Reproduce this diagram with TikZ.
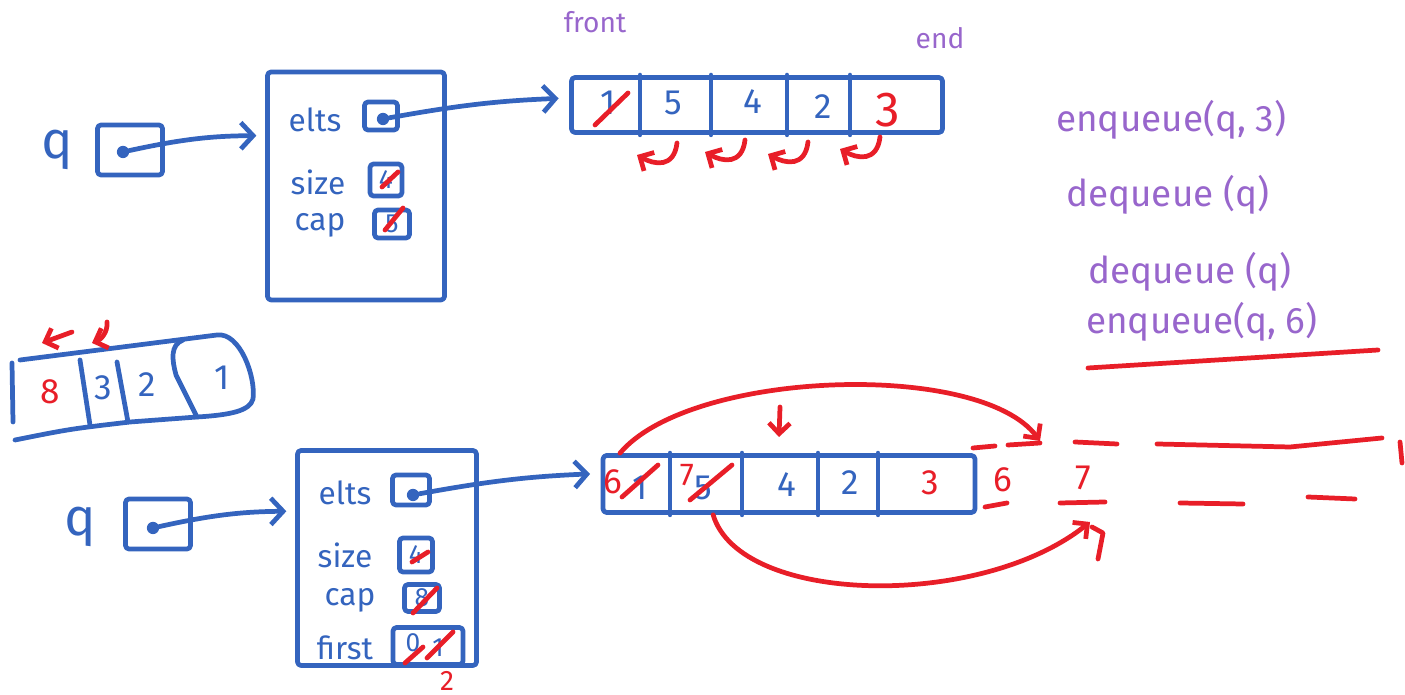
\documentclass[tikz,border=0pt]{standalone}
\usepackage{fontspec}
\setmainfont{Fira Sans}
\usetikzlibrary{arrows.meta}
\definecolor{inkblue}{RGB}{52,100,190}
\definecolor{inkred}{RGB}{232,30,40}
\definecolor{inkpurple}{RGB}{152,102,204}

\begin{document}
\begin{tikzpicture}[
            x=0.02cm, y=0.02cm,
            ink/.style={
                draw=inkblue,
                line width=2.7pt,
                line cap=round,
                line join=round
            },
            inkbox/.style={
                rectangle,
                ink,
                rounded corners=2pt,
                inner sep=0pt
            },
            ptrbox/.style={
                inkbox,
                minimum width=1.3cm,
                minimum height=1cm
            },
            slot/.style={
                inkbox,
                text=inkblue,
                font=\fontsize{15}{18}\selectfont
            },
            dot/.style={circle, fill=inkblue, inner sep=0pt, minimum size=7pt},
            qname/.style={text=inkblue, font=\fontsize{30}{36}\selectfont},
            field/.style={text=inkblue, font=\fontsize{18}{22}\selectfont},
            num/.style={text=inkblue, inner sep=1pt, font=\fontsize{20}{24}\selectfont},
            rednum/.style={num, text=inkred},
            tag/.style={text=inkpurple, font=\fontsize{16}{19}\selectfont},
            note/.style={text=inkpurple, anchor=west, font=\fontsize{21}{25}\selectfont},
            arrow/.style={ink, -{Straight Barb[length=7pt,width=15pt]}},
            redline/.style={draw=inkred, line width=2.7pt, line cap=round, line join=round},
            redarrow/.style={redline, -{Straight Barb[length=6pt,width=12pt]}},
            strike/.style={redline}
        ]
        \useasboundingbox (0,0) rectangle (1405,695);

        % Top: pointer and struct
        \node[qname] (q1) at (57,545) {q};
        \node[ptrbox] (qbox1) at (130,545) {};
        \node[dot] (d1) at (123,543) {};
        \node[inkbox, minimum width=3.54cm, minimum height=4.56cm] (struct1) at (356,509) {};
        \draw[arrow, shorten >=5pt] (d1) to[bend left=6] (struct1.151);

        \node[field] (elts1) at (315,575) {elts};
        \node[slot, minimum width=0.66cm, minimum height=0.56cm] (eltsbox1) at (381,579) {};
        \node[dot] (ed1) at (383,576) {};
        \node[field] (size1) at (318,513) {size};
        \node[slot, minimum width=0.64cm, minimum height=0.64cm] (sizebox1) at (386,515) {4};
        \node[field] (cap1) at (320,470) {cap};
        \node[slot, minimum width=0.7cm, minimum height=0.56cm] (capbox1) at (392,471) {5};
        \draw[strike] (sizebox1.center) +(-4,-7) -- +(12,8);
        \draw[strike] (capbox1.center) +(-7,-6) -- +(11,16);

        % Top array
        \node[inkbox, minimum width=7.42cm, minimum height=1.1cm] (arr1) at (757,590) {};
        \draw[arrow, shorten >=6pt] (ed1) to[bend left=4] ([yshift=4pt]arr1.west);
        \foreach \x in {640,711,787,850}
            \draw[ink] (\x,0 |- arr1.north) -- (\x,0 |- arr1.south);
        \node[num] (a11) at (608,592) {1};
        \node[num] (a12) at (673,592) {5};
        \node[num] (a13) at (753,593) {4};
        \node[num] (a14) at (823,588) {2};
        \node[rednum, font=\fontsize{28}{32}\selectfont] (a15) at (888,585) {3};
        \draw[strike] (a11.center) +(-13,-22) -- +(20,10);
        \node[tag] (front) at (595,673) {front};
        \node[tag] (end) at (940,657) {end};

        % shifts to the left
        \foreach \x/\y in {677/552, 745/555, 808/553, 880/558}
            \draw[redarrow] (\x,\y) .. controls (\x-3,\y-25) and (\x-22,\y-22) .. (\x-40,\y-12);

        % Calls
        \node[note] (call1) at (1050,575) {enqueue(q, 3)};
        \node[note] (call2) at (1060,500) {dequeue (q)};
        \node[note] (call3) at (1082,423) {dequeue (q)};
        \node[note] (call4) at (1080,373) {enqueue(q, 6)};
        \draw[redline] (1088,327) -- (1378,345);

        % Wrapped array sketch
        \draw[ink] (20,335) -- (217,360) .. controls (240,363) and (256,318) .. (253,296)
            .. controls (250,284) and (230,280) .. (197,278) -- (130,273)
            .. controls (70,266) .. (15,255);
        \draw[ink] (12,332) -- (13,273);
        \draw[ink] (80,335) -- (90,270);
        \draw[ink] (117,333) -- (128,273);
        \draw[ink] (183,355) .. controls (170,350) and (172,335) .. (176,320) -- (197,278);
        \node[rednum] (c1) at (50,303) {8};
        \node[num] (c2) at (103,307) {3};
        \node[num] (c3) at (147,310) {2};
        \node[num] (c4) at (222,317) {1};
        \draw[redarrow] (72,363) -- (42,352);
        \draw[redarrow] (107,373) .. controls (108,362) and (100,355) .. (92,352);

        % Bottom: pointer and struct
        \node[qname] (q2) at (80,168) {q};
        \node[ptrbox] (qbox2) at (158,171) {};
        \node[dot] (d2) at (153,167) {};
        \node[inkbox, minimum width=3.58cm, minimum height=4.3cm] (struct2) at (387,137) {};
        \draw[arrow, shorten >=5pt] (d2) to[bend left=6] (struct2.153);

        \node[field] (elts2) at (345,202) {elts};
        \node[slot, minimum width=0.74cm, minimum height=0.6cm] (eltsbox2) at (411,205) {};
        \node[dot] (ed2) at (413,200) {};
        \node[field] (size2) at (345,140) {size};
        \node[slot, minimum width=0.66cm, minimum height=0.68cm] (sizebox2) at (416,140) {4};
        \node[field] (cap2) at (350,95) {cap};
        \node[slot, minimum width=0.7cm, minimum height=0.54cm] (capbox2) at (422,97) {8};
        \node[field] (first2) at (345,47) {first};
        \node[slot, minimum width=1.4cm, minimum height=0.74cm] (firstbox2) at (428,49) {};
        \node[num, font=\fontsize{15}{18}\selectfont] (f0) at (413,52) {0};
        \node[num, font=\fontsize{15}{18}\selectfont] (f1) at (438,47) {1};
        \draw[strike] (sizebox2.center) +(-4,-7) -- +(12,3);
        \draw[strike] (capbox2.center) +(-9,-15) -- +(15,10);
        \draw[strike] (f0.center) +(-8,-20) -- +(10,-4);
        \draw[strike] (f1.center) +(-11,-10) -- +(15,16);
        \node[rednum, font=\fontsize{16}{19}\selectfont, anchor=south] (f2) at (447,2) {2};

        % Bottom array
        \node[inkbox, minimum width=7.44cm, minimum height=1.14cm] (arr2) at (789,211) {};
        \draw[arrow, shorten >=6pt] (ed2) to[bend left=4] ([yshift=6pt]arr2.west);
        \foreach \x in {670,742,818,878}
            \draw[ink] (\x,0 |- arr2.north) -- (\x,0 |- arr2.south);
        \node[rednum] (b1) at (613,213) {6};
        \node[num] (b11) at (640,207) {1};
        \node[rednum, font=\fontsize{18}{21}\selectfont] (b2) at (687,220) {7};
        \node[num] (b21) at (703,207) {5};
        \node[num] (b3) at (787,210) {4};
        \node[num] (b4) at (850,212) {2};
        \node[rednum] (b5) at (930,212) {3};
        \draw[strike] (b11.center) +(-18,-9) -- +(18,23);
        \draw[strike] (b21.center) +(-13,-12) -- +(29,23);
        \draw[redarrow] (780,288) -- (779,258);

        % Grown array
        \foreach \xa/\ya/\xb/\yb in {973/247/995/249, 1008/250/1040/252, 1075/253/1117/251,
                           1400/253/1402/232, 985/188/1007/192, 1060/192/1105/193,
                           1180/192/1243/191, 1308/198/1355/196}
            \draw[redline] (\xa,\ya) -- (\xb,\yb);
        \draw[redline] (1157,251) -- (1290,248) -- (1382,257);
        \node[rednum] (e6) at (1003,215) {6};
        \node[rednum] (e7) at (1083,217) {7};
        \coordinate (slot6) at (1040,254);
        \coordinate (slot7) at (1090,173);
        \draw[redarrow] ([xshift=11pt]arr2.north west) .. controls (690,325) and (980,335) .. (slot6);
        \draw[redarrow] ([xshift=64pt]arr2.south west) .. controls (740,90) and (980,85) .. (slot7);
        \draw[redline] (1092,168) -- (1103,162) -- (1098,136);

        \end{tikzpicture}
\end{document}
